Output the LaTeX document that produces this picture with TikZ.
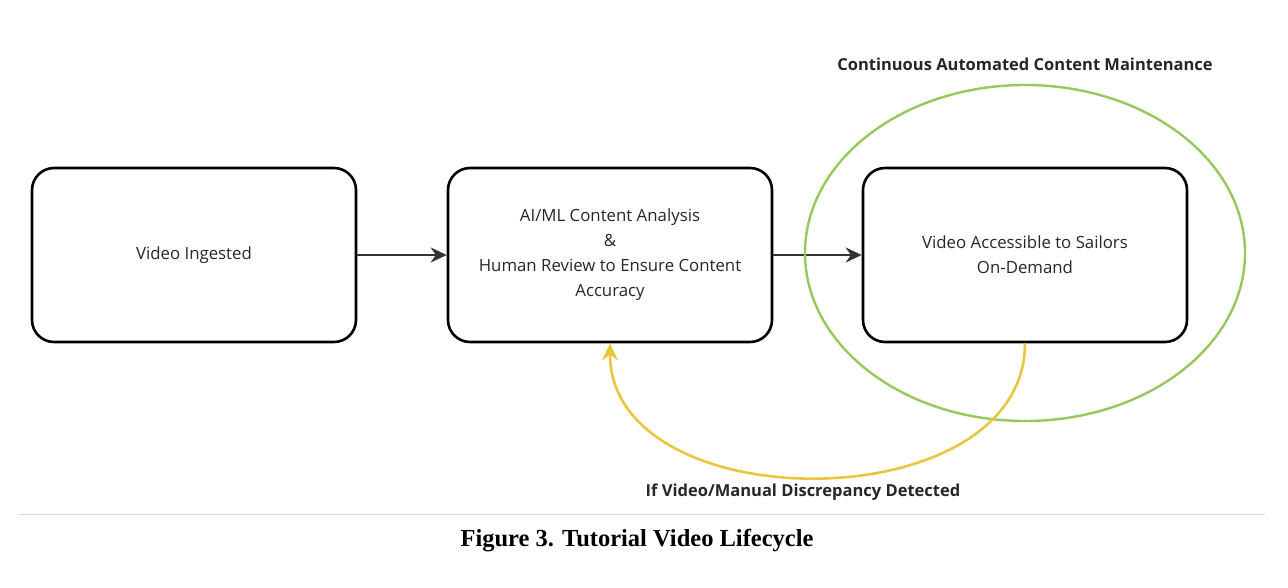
\documentclass[tikz,border=0pt]{standalone}
\usepackage{fontspec}
\setmainfont{Open Sans}
\newfontfamily\capfont{Liberation Serif}
\usetikzlibrary{arrows.meta,positioning,shapes.geometric}
\definecolor{fbyellow}{RGB}{232,198,64}
\tikzstyle{stage}=[draw,line width=2.6pt,rounded corners=22pt,minimum width=324pt,minimum height=174pt,align=center,inner sep=0,font=\fontsize{16.8}{25}\selectfont,text=black!85]
\tikzstyle{flow}=[draw,line width=2.6pt,black!80,-{Stealth[length=16pt,width=15pt]}]
\tikzstyle{fback}=[draw,line width=2.6pt,fbyellow,-{Stealth[length=17pt,width=16pt]}]
\tikzstyle{lbl}=[font=\bfseries\fontsize{16.5}{18}\selectfont,text=black!85]
\begin{document}
\begin{tikzpicture}[x=1pt,y=-1pt]
	\useasboundingbox (0,0) rectangle (1288,588);

	\node[stage] (vid) at (194,255) {Video Ingested};
	\node[stage] (ana) at (610,255) {AI/ML Content Analysis\\ \&\\ Human Review to Ensure Content\\ Accuracy};
	\node[stage] (acc) at (1025,255) {Video Accessible to Sailors\\ On-Demand};

	\path[flow] (vid) -- (ana);
	\path[flow] (ana) -- (acc);

% % % maintenance
	\node[draw,ellipse,line width=2.4pt,color={rgb,255:red,150;green,200;blue,90},minimum width=440pt,minimum height=336pt] (mnt) at (1025,253) {};
	\node[lbl] (mntl) at (1025,64) {Continuous Automated Content Maintenance};

% % % feedback
	\path[fback] (acc.south) .. controls (1025,522) and (610,522) .. (ana.south);
	\node[lbl] (fbl) at (803,492) {If Video/Manual Discrepancy Detected};

	\draw[black!15,line width=0.8pt] (18,514) -- (1265,514);
	\node[font=\capfont\bfseries\fontsize{24.5}{28}\selectfont] (cap) at (637,541) {Figure 3. Tutorial Video Lifecycle};
\end{tikzpicture}
\end{document}
